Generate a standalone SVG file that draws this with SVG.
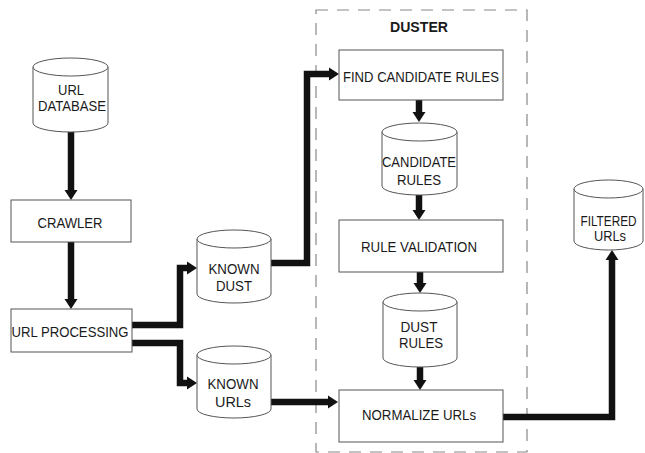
<svg xmlns="http://www.w3.org/2000/svg" width="645" height="453" viewBox="0 0 645 453">
<style>
.box{fill:#fff;stroke:#555;stroke-width:1}
.cyl{fill:#fff;stroke:#555;stroke-width:1}
.t{font-family:"Liberation Sans",Arial,sans-serif;font-size:14px;fill:#1a1a1a;text-anchor:middle}
.b{font-weight:bold}
.c{fill:none;stroke:#111;stroke-width:6.5;stroke-linejoin:miter;stroke-linecap:butt;marker-end:url(#ah)}
</style>
<defs>
<marker id="ah" markerUnits="userSpaceOnUse" markerWidth="12" markerHeight="16" refX="1" refY="7" orient="auto" viewBox="0 0 12 14">
<path d="M0,0.5 L10,7 L0,13.5 z" fill="#111"/>
</marker>
</defs>
<rect x="0" y="0" width="645" height="453" fill="#fff"/>
<g id="duster">
<rect x="316" y="10" width="211" height="442" fill="none" stroke="#888" stroke-width="1.2" stroke-dasharray="12 9"/>
<text class="t b" x="419" y="32" textLength="58" lengthAdjust="spacingAndGlyphs">DUSTER</text>
</g>
<g id="connectors">
<path class="c" d="M71,132 V191"/>
<path class="c" d="M71,242 V300"/>
<path class="c" d="M132,325 H180 V268 H188"/>
<path class="c" d="M132,343 H180 V383 H188"/>
<path class="c" d="M271,263 H307 V74 H330"/>
<path class="c" d="M271,402 H329"/>
<path class="c" d="M419,100 V113"/>
<path class="c" d="M419,195 V211"/>
<path class="c" d="M420,272 V284"/>
<path class="c" d="M420,367 V381"/>
<path class="c" d="M503,417 H612 V259"/>
</g>
<g id="url-database">
<path class="cyl" d="M33,67 A37.5,9 0 0 1 108,67 V123 A37.5,9 0 0 1 33,123 Z"/>
<path class="cyl" fill="none" d="M33,67 A37.5,9 0 0 0 108,67"/>
<text class="t" x="71" y="95" textLength="26" lengthAdjust="spacingAndGlyphs">URL</text>
<text class="t" x="72" y="111" textLength="68" lengthAdjust="spacingAndGlyphs">DATABASE</text>
</g>
<g id="crawler">
<rect class="box" x="11" y="200" width="120" height="42"/>
<text class="t" x="70" y="228" textLength="65" lengthAdjust="spacingAndGlyphs">CRAWLER</text>
</g>
<g id="url-processing">
<rect class="box" x="11" y="309" width="121" height="43"/>
<text class="t" x="70" y="337" textLength="117" lengthAdjust="spacingAndGlyphs">URL PROCESSING</text>
</g>
<g id="known-dust">
<path class="cyl" d="M197,239 A37,9 0 0 1 271,239 V294 A37,9 0 0 1 197,294 Z"/>
<path class="cyl" fill="none" d="M197,239 A37,9 0 0 0 271,239"/>
<text class="t" x="234" y="274" textLength="51" lengthAdjust="spacingAndGlyphs">KNOWN</text>
<text class="t" x="234" y="291" textLength="36" lengthAdjust="spacingAndGlyphs">DUST</text>
</g>
<g id="known-urls">
<path class="cyl" d="M197,355 A37,9 0 0 1 271,355 V409 A37,9 0 0 1 197,409 Z"/>
<path class="cyl" fill="none" d="M197,355 A37,9 0 0 0 271,355"/>
<text class="t" x="233" y="389" textLength="51" lengthAdjust="spacingAndGlyphs">KNOWN</text>
<text class="t" x="233" y="407" textLength="36" lengthAdjust="spacingAndGlyphs">URLs</text>
</g>
<g id="find-candidate-rules">
<rect class="box" x="339" y="50" width="164" height="50"/>
<text class="t" x="421" y="82" textLength="156" lengthAdjust="spacingAndGlyphs">FIND CANDIDATE RULES</text>
</g>
<g id="candidate-rules">
<path class="cyl" d="M382,132 A37.5,9 0 0 1 457,132 V186 A37.5,9 0 0 1 382,186 Z"/>
<path class="cyl" fill="none" d="M382,132 A37.5,9 0 0 0 457,132"/>
<text class="t" x="419" y="167" textLength="74" lengthAdjust="spacingAndGlyphs">CANDIDATE</text>
<text class="t" x="419" y="185" textLength="44" lengthAdjust="spacingAndGlyphs">RULES</text>
</g>
<g id="rule-validation">
<rect class="box" x="339" y="220" width="164" height="52"/>
<text class="t" x="419" y="252" textLength="116" lengthAdjust="spacingAndGlyphs">RULE VALIDATION</text>
</g>
<g id="dust-rules">
<path class="cyl" d="M383,302 A37,9 0 0 1 457,302 V358 A37,9 0 0 1 383,358 Z"/>
<path class="cyl" fill="none" d="M383,302 A37,9 0 0 0 457,302"/>
<text class="t" x="419" y="332" textLength="37" lengthAdjust="spacingAndGlyphs">DUST</text>
<text class="t" x="421" y="348" textLength="44" lengthAdjust="spacingAndGlyphs">RULES</text>
</g>
<g id="normalize-urls">
<rect class="box" x="339" y="390" width="164" height="52"/>
<text class="t" x="419" y="420" textLength="114" lengthAdjust="spacingAndGlyphs">NORMALIZE URLs</text>
</g>
<g id="filtered-urls">
<path class="cyl" d="M574,189 A34.5,9 0 0 1 643,189 V241 A34.5,9 0 0 1 574,241 Z"/>
<path class="cyl" fill="none" d="M574,189 A34.5,9 0 0 0 643,189"/>
<text class="t" x="608.5" y="226" font-size="13" textLength="56" lengthAdjust="spacingAndGlyphs">FILTERED</text>
<text class="t" x="610" y="241" font-size="13" textLength="32" lengthAdjust="spacingAndGlyphs">URLs</text>
</g>
</svg>
